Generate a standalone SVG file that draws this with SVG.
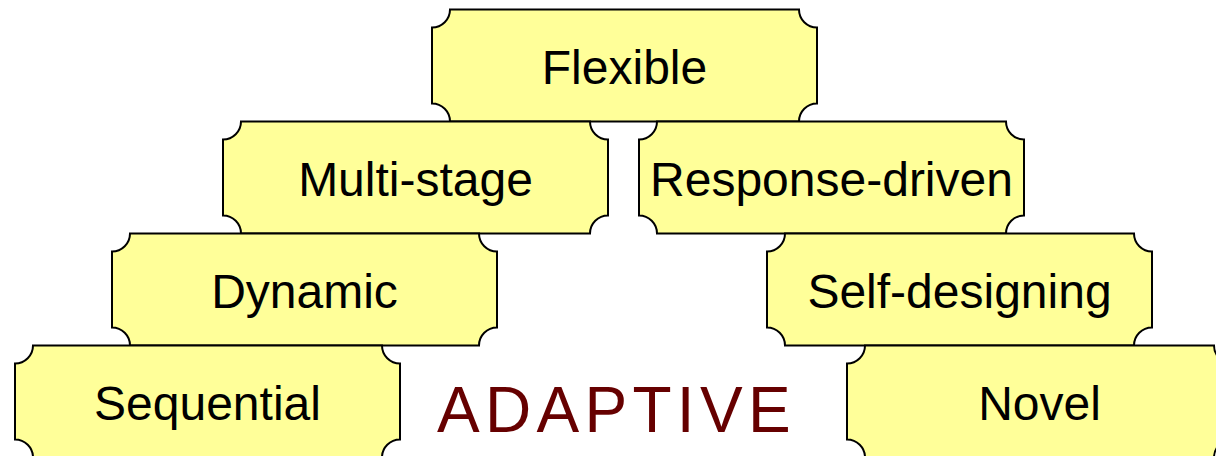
<svg xmlns="http://www.w3.org/2000/svg" width="1216" height="456" viewBox="0 0 1216 456">
<style>
.box{fill:#FFFF99;stroke:#000;stroke-width:2}
.lbl{font-family:"Liberation Sans",Arial,sans-serif;font-size:48px;fill:#000;text-anchor:middle}
.title{font-family:"Liberation Sans",Arial,sans-serif;font-size:64px;fill:#660000;letter-spacing:5.3px}
</style>
<defs>
<path id="plaque" d="M18,0 H367 A18,18 0 0 0 385,18 V94 A18,18 0 0 0 367,112 H18 A18,18 0 0 0 0,94 V18 A18,18 0 0 0 18,0 Z"/>
</defs>
<rect width="1216" height="456" fill="#fff"/>
<g id="connectors"></g>
<g id="flexible">
<use href="#plaque" class="box" x="432" y="9.5"/>
<text class="lbl" x="624.5" y="83.5">Flexible</text>
</g>
<g id="multi-stage">
<use href="#plaque" class="box" x="223" y="121.5"/>
<text class="lbl" x="415.5" y="195.5">Multi-stage</text>
</g>
<g id="response-driven">
<use href="#plaque" class="box" x="639" y="121.5"/>
<text class="lbl" x="831.5" y="195.5">Response-driven</text>
</g>
<g id="dynamic">
<use href="#plaque" class="box" x="112" y="233.5"/>
<text class="lbl" x="304.5" y="307.5">Dynamic</text>
</g>
<g id="self-designing">
<use href="#plaque" class="box" x="767" y="233.5"/>
<text class="lbl" x="959.5" y="307.5">Self-designing</text>
</g>
<g id="sequential">
<use href="#plaque" class="box" x="15" y="345.5"/>
<text class="lbl" x="207.5" y="419.5">Sequential</text>
</g>
<g id="novel">
<use href="#plaque" class="box" x="847" y="345.5"/>
<text class="lbl" x="1039.5" y="419.5">Novel</text>
</g>
<g id="adaptive">
<text class="title" x="437" y="431.5">ADAPTIVE</text>
</g>
</svg>
